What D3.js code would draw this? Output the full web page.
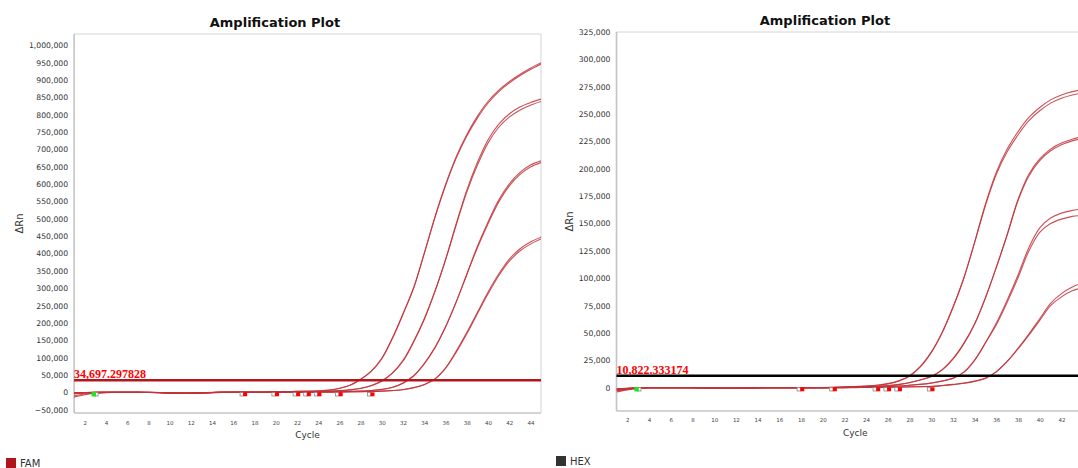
<!DOCTYPE html>
<html>
<head>
<meta charset="utf-8">
<script src="https://cdn.jsdelivr.net/npm/d3@7"></script>
<style>
  body { margin: 0; background: #fff; }
  svg { display: block; font-family: "DejaVu Sans", sans-serif; }
</style>
</head>
<body>
<svg id="chart" width="1078" height="468"></svg>
<script>
const cycles = [1,2,3,4,5,6,7,8,9,10,11,12,13,14,15,16,17,18,19,20,21,22,23,24,25,26,27,28,29,30,31,32,33,34,35,36,37,38,39,40,41,42,43,44,45];
const xTicks = [2,4,6,8,10,12,14,16,18,20,22,24,26,28,30,32,34,36,38,40,42,44];

// FAM panel
const famA1 = [-14000,-7000,-2500,-1000,-500,0,0,-500,-1000,-2000,-3000,-3000,-2000,-1000,0,500,500,500,1000,1500,2000,2500,3000,4000,6000,11000,20000,37000,60000,97000,155000,225000,300000,400000,505000,598000,678000,742000,795000,838000,870000,895000,916000,934000,950000];
const famA2 = [-10000,-5000,-2000,-800,-300,0,200,0,-500,-1500,-2500,-2500,-1500,-500,0,300,500,700,1000,1500,2000,2500,3200,4200,6300,11500,20500,37500,61000,98000,157000,227000,302000,401000,503000,595000,674000,738000,790000,833000,866000,891000,912000,930000,946000];
const famB1 = [-3000,-1500,-500,0,0,0,0,-500,-1000,-1500,-2000,-2000,-1500,-500,0,0,0,0,0,300,500,1000,1500,2000,3000,4500,7000,11000,19000,32000,55000,90000,145000,210000,290000,382000,485000,582000,662000,727000,772000,802000,822000,835000,845000];
const famB2 = [-5000,-2500,-1000,-300,0,0,0,-300,-800,-1200,-1800,-1800,-1200,-300,0,0,0,0,200,400,700,1100,1600,2200,3200,4800,7400,11500,19500,33000,56000,92000,147000,212000,291000,381000,481000,576000,654000,718000,763000,793000,813000,827000,838000];
const famC1 = [-2000,-1000,-300,0,0,0,-300,-800,-1500,-2500,-3500,-3500,-2500,-1200,-300,0,0,0,0,0,200,400,600,900,1200,1700,2500,3500,5000,8000,14000,26000,47000,82000,128000,188000,260000,340000,420000,490000,553000,600000,633000,655000,667000];
const famC2 = [-1500,-800,-200,0,0,0,-200,-600,-1200,-2000,-3000,-3000,-2200,-1000,-200,0,0,0,0,100,300,500,700,1000,1300,1800,2700,3700,5300,8500,14500,27000,48000,83000,129000,188000,259000,338000,416000,485000,547000,594000,627000,649000,662000];
const famD1 = [-1000,-500,0,0,0,0,0,-300,-800,-1500,-2200,-2200,-1500,-800,-200,0,0,0,0,0,0,200,400,600,800,1000,1300,1700,2300,3200,4800,7500,13000,22000,38000,70000,118000,172000,230000,288000,340000,383000,413000,433000,447000];
const famD2 = [-2000,-1000,-300,0,0,0,0,-200,-600,-1200,-1800,-1800,-1200,-600,0,0,0,0,0,0,100,300,500,700,900,1100,1400,1800,2400,3400,5000,7800,13500,22500,38500,69000,115000,168000,226000,283000,335000,377000,407000,427000,442000];
const famThreshold = 34697.297828;
const famThresholdLabel = "34,697.297828";
const famYTicks = [-50000,0,50000,100000,150000,200000,250000,300000,350000,400000,450000,500000,550000,600000,650000,700000,750000,800000,850000,900000,950000,1000000];
const famStartMarks = [3];
const famBaseEndMarks = [17,20,22,23,24,26,29];

// HEX panel
const hexA1 = [-4000,-2000,-600,-100,0,0,0,0,-200,-400,-600,-600,-400,-200,0,0,0,0,0,100,300,600,1000,1500,2200,3500,6000,10500,19000,32000,50000,73000,100000,133000,168000,197000,218000,234000,247000,256000,263000,267500,270500,272500,274000];
const hexA2 = [-2500,-1200,-400,0,0,0,0,0,-100,-300,-500,-500,-300,-100,0,0,0,0,100,200,400,700,1100,1600,2300,3700,6300,11000,19500,32500,50500,73500,100000,132500,166500,195000,215500,231000,244000,253000,260000,264500,267500,269500,271000];
const hexB1 = [-1500,-700,-200,0,0,0,0,0,-200,-400,-600,-600,-400,-200,0,0,0,0,0,0,100,300,500,800,1200,1800,2800,4500,7000,10000,16000,26000,40000,58000,82000,110000,140000,172000,195000,209000,218000,223500,227000,229500,231000];
const hexB2 = [-3000,-1500,-500,-100,0,0,0,0,-100,-300,-500,-500,-300,-100,0,0,0,0,0,100,200,400,600,900,1300,1900,3000,4700,7300,10400,16500,26500,40500,58500,82500,110000,139500,171000,193500,207500,216500,222000,225500,228000,229500];
const hexC1 = [-2000,-1000,-300,0,0,0,0,0,-200,-400,-500,-500,-300,-100,0,0,0,0,0,0,0,100,300,500,700,1000,1500,2200,3000,4200,6000,8500,14000,25000,41000,59000,80000,103000,128000,146000,155000,159500,162000,163500,164500];
const hexC2 = [-1000,-500,-100,0,0,0,0,0,-100,-300,-400,-400,-200,0,0,0,0,0,0,0,100,200,400,600,800,1100,1600,2300,3100,4300,6100,8600,14200,25300,41000,57500,78000,100500,125000,142000,150000,154000,156500,157500,158500];
const hexD1 = [-1000,-500,-200,0,0,0,0,0,-100,-300,-400,-400,-300,-100,0,0,0,0,0,0,0,0,100,200,300,400,500,700,900,1000,1800,2800,4000,5800,8500,14500,24000,36000,49000,63000,77000,86000,92000,96000,98500];
const hexD2 = [-1500,-800,-300,0,0,0,0,0,-100,-200,-300,-300,-200,0,0,0,0,0,0,0,0,100,200,300,400,500,600,800,1000,1200,2000,3000,4200,6000,8800,14700,24000,35500,48000,61500,75000,83000,88500,91500,93500];
const hexThreshold = 10822.333174;
const hexThresholdLabel = "10,822.333174";
const hexYTicks = [0,25000,50000,75000,100000,125000,150000,175000,200000,225000,250000,275000,300000,325000];
const hexStartMarks = [3];
const hexBaseEndMarks = [18,21,25,26,27,30];

const svg = d3.select("#chart");

function drawPanel(p) {
  const x = d3.scaleLinear().domain([1, 45]).range([p.left, p.right]);
  const y = d3.scaleLinear().domain(p.yDomain).range([p.bottom, p.top]);
  const g = svg.append("g");

  g.append("text")
    .attr("x", p.titleX)
    .attr("y", p.titleY)
    .attr("text-anchor", "middle")
    .attr("font-size", 13)
    .attr("font-weight", "bold")
    .attr("fill", "#111")
    .text("Amplification Plot");

  // frame
  g.append("line").attr("x1", p.left).attr("x2", p.right).attr("y1", p.top).attr("y2", p.top)
    .attr("stroke", "#d4d4d4").attr("stroke-width", 1);
  g.append("line").attr("x1", p.right).attr("x2", p.right).attr("y1", p.top).attr("y2", p.bottom)
    .attr("stroke", "#d4d4d4").attr("stroke-width", 1);
  g.append("line").attr("x1", p.left).attr("x2", p.left).attr("y1", p.top).attr("y2", p.bottom)
    .attr("stroke", "#c4c4c4").attr("stroke-width", 1.6);
  g.append("line").attr("x1", p.left).attr("x2", p.right).attr("y1", p.bottom).attr("y2", p.bottom)
    .attr("stroke", "#c4c4c4").attr("stroke-width", 1.6);

  const yAxis = g.append("g")
    .attr("transform", `translate(${p.left},0)`)
    .call(d3.axisLeft(y).tickValues(p.yTicks).tickFormat(d3.format(",")).tickSize(0).tickPadding(6));
  yAxis.select(".domain").remove();
  yAxis.selectAll("text").attr("font-family", "DejaVu Sans").attr("font-size", 7.7).attr("fill", "#333");

  const xAxis = g.append("g")
    .attr("transform", `translate(0,${p.bottom})`)
    .call(d3.axisBottom(x).tickValues(xTicks).tickSize(0).tickPadding(p.xPad));
  xAxis.select(".domain").remove();
  xAxis.selectAll("text").attr("font-family", "DejaVu Sans").attr("font-size", 5.5).attr("fill", "#444");

  g.append("text")
    .attr("x", (p.left + p.right) / 2)
    .attr("y", p.cycleY)
    .attr("text-anchor", "middle")
    .attr("font-size", 9)
    .attr("fill", "#333")
    .text("Cycle");

  g.append("text")
    .attr("transform", `translate(${p.rnX},${(p.top + p.bottom) / 2}) rotate(-90)`)
    .attr("text-anchor", "middle")
    .attr("font-size", 10)
    .attr("fill", "#333")
    .text("ΔRn");

  const clipId = "clip-" + p.name;
  svg.append("clipPath").attr("id", clipId)
    .append("rect").attr("x", p.left).attr("y", p.top).attr("width", p.right - p.left).attr("height", p.bottom - p.top);

  const plot = g.append("g").attr("clip-path", `url(#${clipId})`);

  const line = d3.line()
    .x((d, i) => x(cycles[i]))
    .y((d) => y(d))
    .curve(d3.curveCatmullRom.alpha(0.5));

  plot.selectAll(".curve")
    .data(p.series)
    .enter()
    .append("path")
    .attr("class", "curve")
    .attr("d", line)
    .attr("fill", "none")
    .attr("stroke", "#c1323a")
    .attr("stroke-width", 1.1)
    .attr("opacity", 0.85);

  // baseline markers
  const my = y(0) + p.markOffset;
  plot.selectAll(".base-start")
    .data(p.startMarks)
    .enter()
    .append("rect")
    .attr("x", (c) => x(c + 0.1) - 1.7)
    .attr("y", my - 1.7)
    .attr("width", 3.4)
    .attr("height", 3.4)
    .attr("fill", "#fff")
    .attr("stroke", "#888")
    .attr("stroke-width", 0.8);
  plot.selectAll(".start-mark")
    .data(p.startMarks)
    .enter()
    .append("rect")
    .attr("x", (c) => x(c - 0.15) - 2.2)
    .attr("y", my - 2.2)
    .attr("width", 4.4)
    .attr("height", 4.4)
    .attr("fill", "#1ee61e");
  plot.selectAll(".base-end-box")
    .data(p.endMarks)
    .enter()
    .append("rect")
    .attr("x", (c) => x(c - 0.2) - 1.7)
    .attr("y", my - 1.7)
    .attr("width", 3.4)
    .attr("height", 3.4)
    .attr("fill", "#fff")
    .attr("stroke", "#888")
    .attr("stroke-width", 0.8);
  plot.selectAll(".end-mark")
    .data(p.endMarks)
    .enter()
    .append("rect")
    .attr("x", (c) => x(c + 0.12) - 2)
    .attr("y", my - 2)
    .attr("width", 4)
    .attr("height", 4)
    .attr("fill", "#ff0000");

  // threshold
  g.append("line")
    .attr("x1", p.left)
    .attr("x2", p.right)
    .attr("y1", y(p.threshold))
    .attr("y2", y(p.threshold))
    .attr("stroke", p.thresholdColor)
    .attr("stroke-width", 2.5);
  g.append("text")
    .attr("x", p.left)
    .attr("y", y(p.threshold) - 2)
    .attr("font-family", "Liberation Serif")
    .attr("font-weight", "bold")
    .attr("font-size", 12)
    .attr("fill", "#ff0000")
    .text(p.thresholdLabel);

  // legend
  g.append("rect")
    .attr("x", p.legendX)
    .attr("y", p.legendY)
    .attr("width", 10)
    .attr("height", 10)
    .attr("fill", p.legendColor);
  g.append("text")
    .attr("x", p.legendX + 14)
    .attr("y", p.legendY + 8.5)
    .attr("font-size", 10)
    .attr("fill", "#333")
    .text(p.name);
}

drawPanel({
  name: "FAM",
  left: 74.1, right: 541, top: 34, bottom: 413,
  yDomain: [-59700, 1032500],
  yTicks: famYTicks,
  series: [famA1, famA2, famB1, famB2, famC1, famC2, famD1, famD2],
  threshold: famThreshold, thresholdLabel: famThresholdLabel, thresholdColor: "#b3161e",
  startMarks: famStartMarks, endMarks: famBaseEndMarks, markOffset: 2,
  titleX: 275, titleY: 27, xPad: 8, cycleY: 438, rnX: 23,
  legendX: 6, legendY: 458, legendColor: "#b0141c"
});

drawPanel({
  name: "HEX",
  left: 616.5, right: 1094, top: 32, bottom: 411,
  yDomain: [-21300, 325000],
  yTicks: hexYTicks,
  series: [hexA1, hexA2, hexB1, hexB2, hexC1, hexC2, hexD1, hexD2],
  threshold: hexThreshold, thresholdLabel: hexThresholdLabel, thresholdColor: "#000",
  startMarks: hexStartMarks, endMarks: hexBaseEndMarks, markOffset: 1.6,
  titleX: 825, titleY: 25, xPad: 7, cycleY: 436, rnX: 573,
  legendX: 556, legendY: 456, legendColor: "#333"
});
</script>
</body>
</html>
